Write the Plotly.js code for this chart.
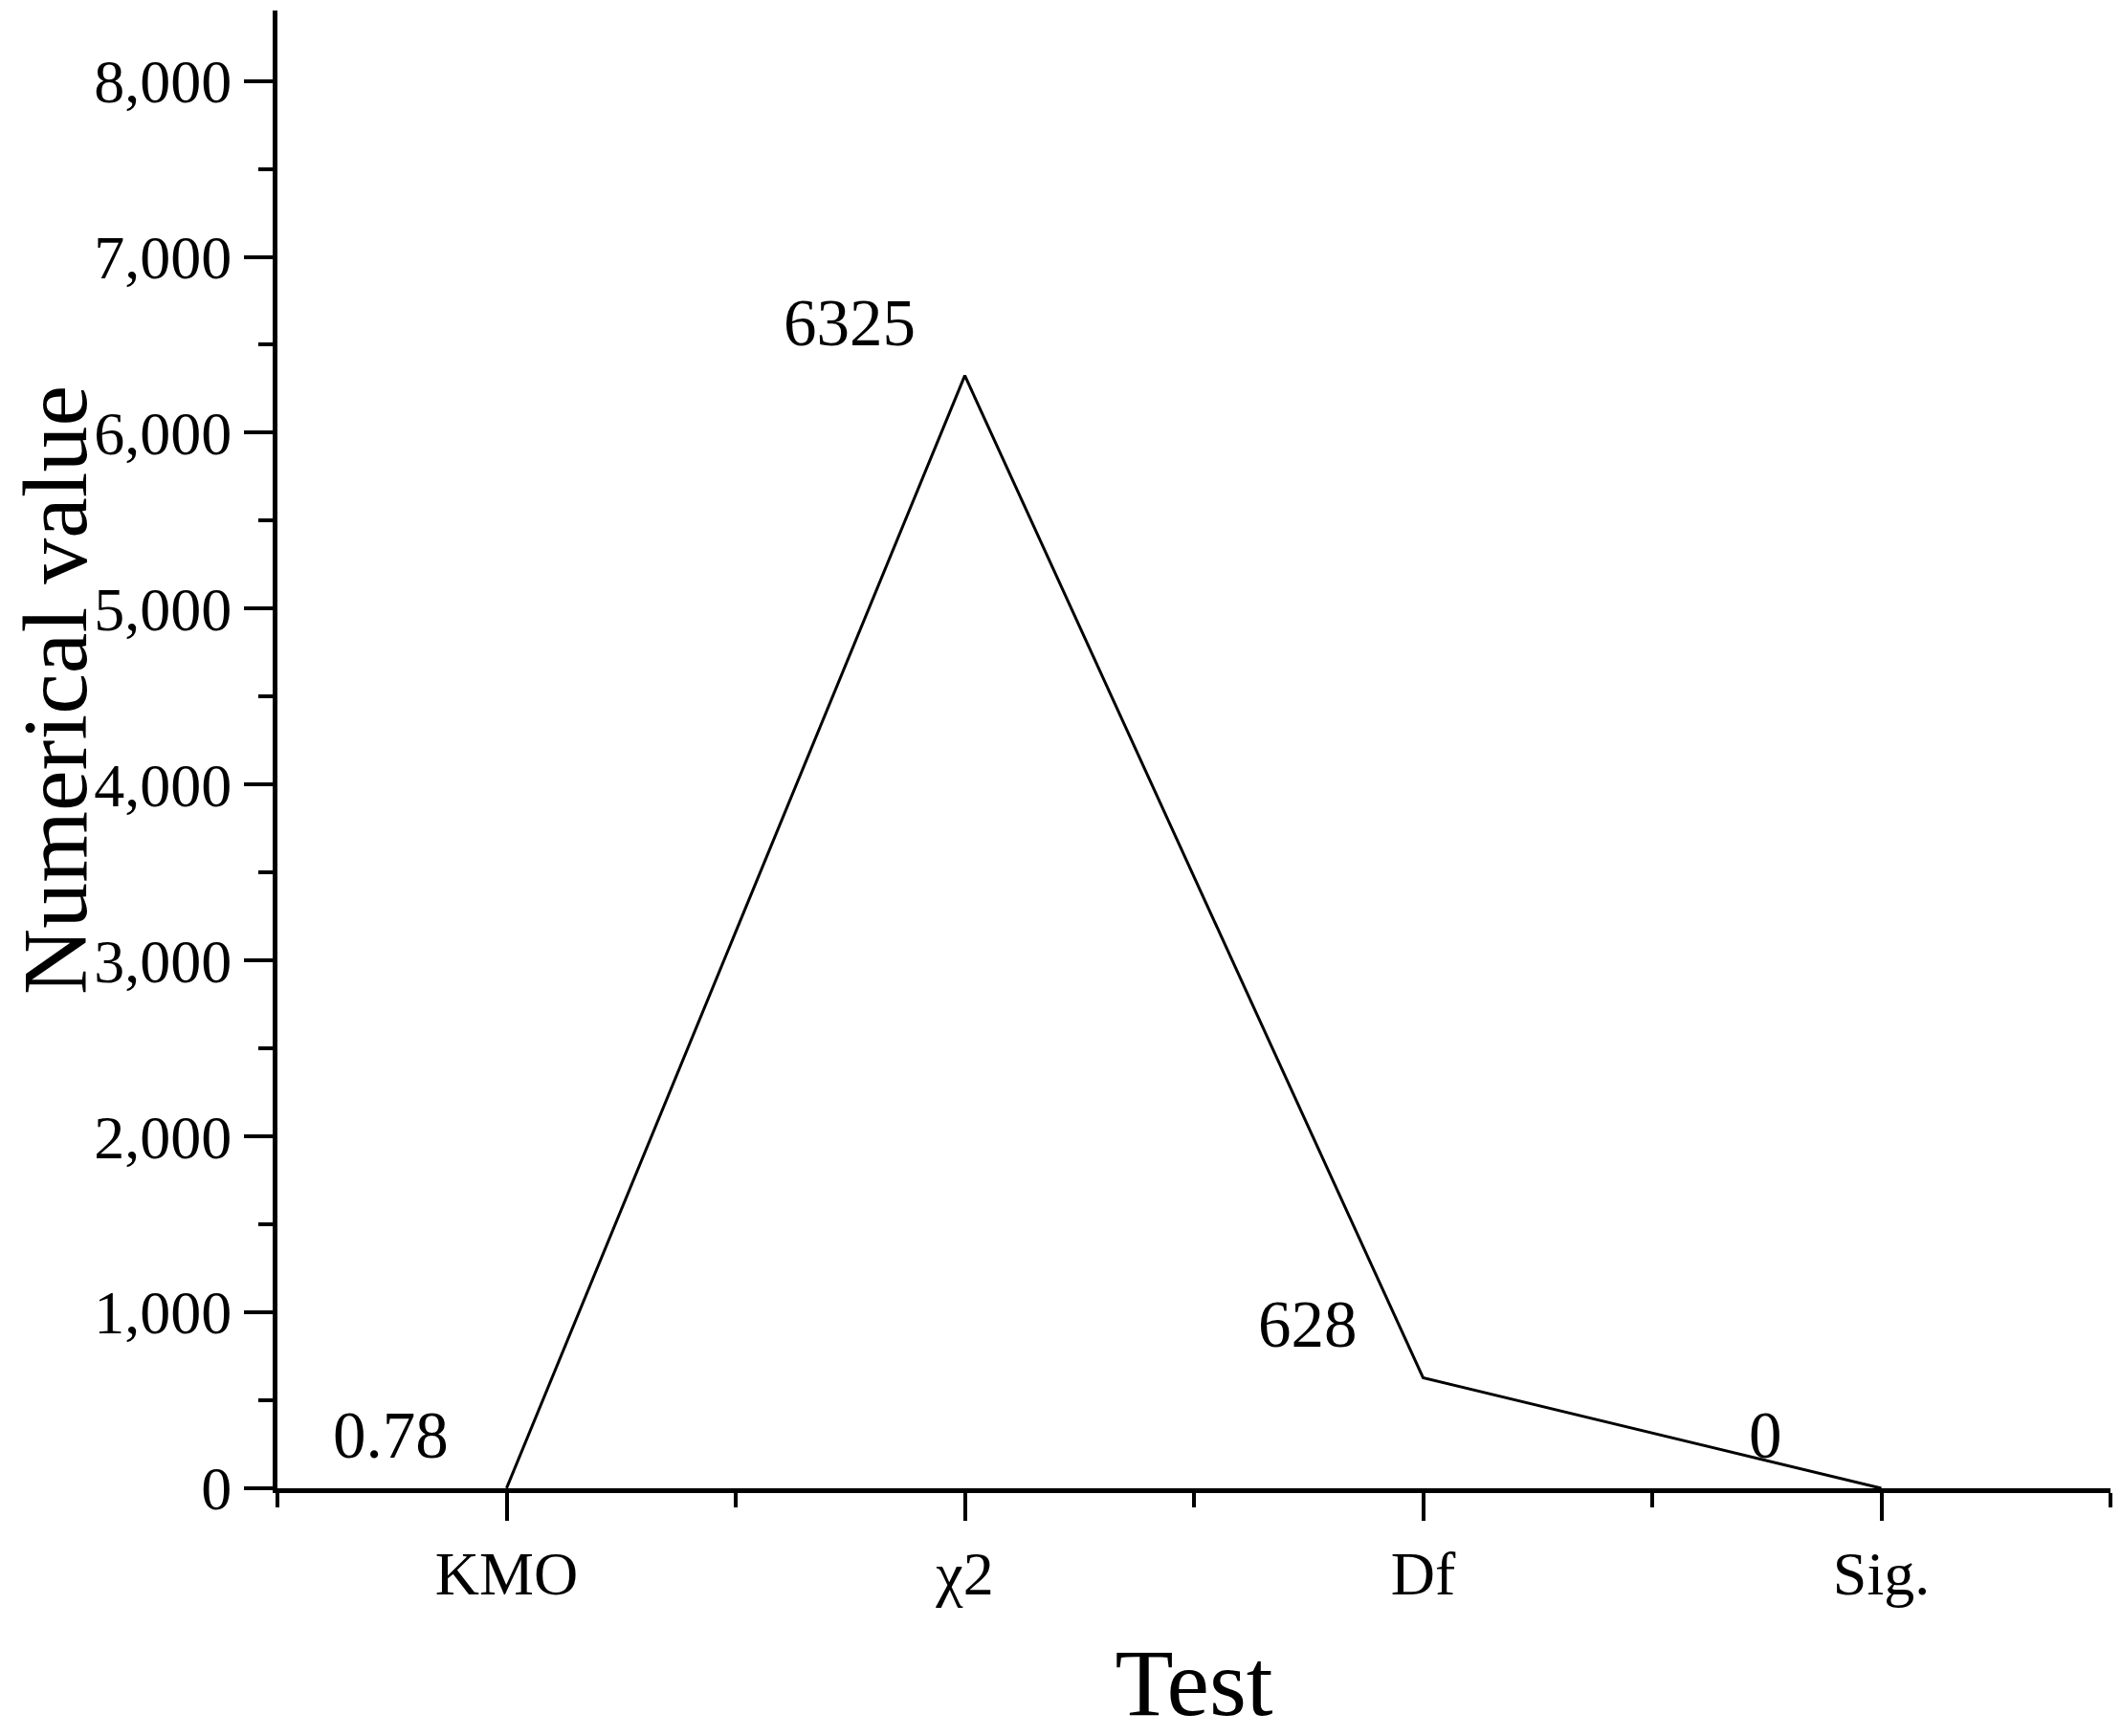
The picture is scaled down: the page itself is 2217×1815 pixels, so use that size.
<!DOCTYPE html>
<html>
<head>
<meta charset="utf-8">
<script src="https://cdn.plot.ly/plotly-3.0.1.min.js"></script>
<style>html,body{margin:0;padding:0;background:#fff;}#chart{width:2217px;height:1815px;}</style>
</head>
<body>
<div id="chart"></div>
<script>
// Data
const categories = ["KMO", "\u03c72", "Df", "Sig."];
const values = [0.78, 6325, 628, 0];
const valueLabels = ["0.78", "6325", "628", "0"];
const yTickVals = [0, 1000, 2000, 3000, 4000, 5000, 6000, 7000, 8000];

const xIdx = categories.map((_, i) => i);
const FONT = "Liberation Serif, Times New Roman, serif";

const trace = {
  type: "scatter",
  mode: "lines",
  x: xIdx,
  y: values,
  line: {color: "#000", width: 3},
  hoverinfo: "skip",
  showlegend: false
};

const annotations = xIdx.map((xi, i) => ({
  x: xi, y: values[i], xref: "x", yref: "y",
  text: valueLabels[i], showarrow: false,
  xshift: -121, yshift: 55,
  xanchor: "center", yanchor: "middle",
  font: {family: FONT, size: 69, color: "#000"}
}));
annotations.push({
  text: "Numerical value", textangle: -90, showarrow: false,
  xref: "paper", yref: "paper",
  x: (57 - 290) / 1916, y: (1556 - 722) / 1545,
  xanchor: "center", yanchor: "middle",
  font: {family: FONT, size: 96, color: "#000"}
});

const layout = {
  width: 2217, height: 1815,
  margin: {l: 290, r: 11, t: 11, b: 259, pad: 0},
  paper_bgcolor: "#fff", plot_bgcolor: "#fff",
  font: {family: FONT, color: "#000"},
  xaxis: {
    range: [-0.5, 3.5], showgrid: false, zeroline: false,
    showline: true, linecolor: "#000", linewidth: 5,
    tickmode: "array", tickvals: xIdx, ticktext: categories,
    ticks: "outside", ticklen: 29, tickwidth: 4, tickcolor: "#000",
    minor: {tickmode: "array", tickvals: [-0.5, 0.5, 1.5, 2.5, 3.5], ticks: "outside", ticklen: 15, tickwidth: 4, tickcolor: "#000"},
    tickfont: {family: FONT, size: 64, color: "#000"},
    title: {text: "Test", font: {family: FONT, size: 100, color: "#000"}, standoff: 56},
    automargin: false, fixedrange: true
  },
  yaxis: {
    range: [0, 8400], showgrid: false, zeroline: false,
    showline: true, linecolor: "#000", linewidth: 5,
    tickmode: "array", tickvals: yTickVals, tickformat: ",d",
    ticks: "outside", ticklen: 30, tickwidth: 4, tickcolor: "#000",
    minor: {dtick: 500, ticks: "outside", ticklen: 15, tickwidth: 4, tickcolor: "#000"},
    tickfont: {family: FONT, size: 64, color: "#000"},
    automargin: false, fixedrange: true
  },
  annotations: annotations
};

Plotly.newPlot("chart", [trace], layout, {staticPlot: true, displayModeBar: false});
</script>
</body>
</html>
